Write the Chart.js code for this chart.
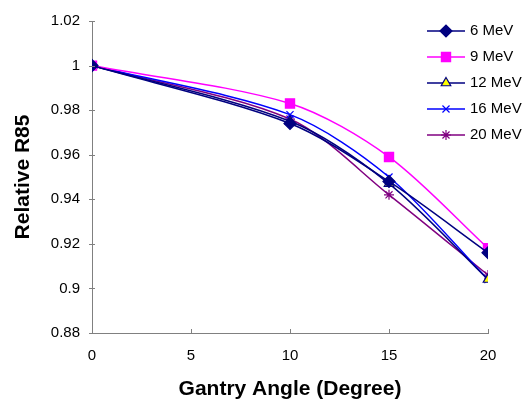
<!DOCTYPE html>
<html>
<head>
<meta charset="utf-8">
<script src="https://cdn.jsdelivr.net/npm/chart.js@4/dist/chart.umd.min.js"></script>
<style>
html,body{margin:0;padding:0;background:#fff;}
#wrap{width:532px;height:402px;}
</style>
</head>
<body>
<div id="wrap"><canvas id="c" width="532" height="402"></canvas></div>
<script>
const angles = [0, 10, 15, 20];
const mev6  = [1, 0.974, 0.948, 0.916];
const mev9  = [1, 0.983, 0.959, 0.918];
const mev12 = [1, 0.975, 0.947, 0.904];
const mev16 = [1, 0.978, 0.950, 0.904];
const mev20 = [1, 0.976, 0.942, 0.906];
const seriesNames = ['6 MeV', '9 MeV', '12 MeV', '16 MeV', '20 MeV'];
const xTicks = [0, 5, 10, 15, 20];
const yTicks = [0.88, 0.9, 0.92, 0.94, 0.96, 0.98, 1, 1.02];

const styles = [
  {line:'#000080', fill:'#000080', border:'#000080', style:'rectRot', r:6},
  {line:'#FF00FF', fill:'#FF00FF', border:'#FF00FF', style:'rect', r:6.5},
  {line:'#000080', fill:'#FFFF00', border:'#000080', style:'triangle', r:5.5},
  {line:'#0000FF', fill:'#0000FF', border:'#0000FF', style:'crossRot', r:5},
  {line:'#800080', fill:'#800080', border:'#800080', style:'star', r:5}
];
const values = [mev6, mev9, mev12, mev16, mev20];

const datasets = values.map((v, i) => ({
  label: seriesNames[i],
  data: angles.map((a, j) => ({x: a, y: v[j]})),
  borderColor: styles[i].line,
  borderWidth: 1.5,
  backgroundColor: styles[i].fill,
  pointStyle: styles[i].style,
  pointRadius: styles[i].r,
  pointBorderColor: styles[i].border,
  pointBackgroundColor: styles[i].fill,
  pointBorderWidth: 1.2,
  tension: 0.3,
  fill: false
}));

const FONT = "'Liberation Sans', Arial, sans-serif";

const extras = {
  id: 'extras',
  afterDraw(chart) {
    const ctx = chart.ctx;
    const xs = chart.scales.x, ys = chart.scales.y;
    ctx.save();
    ctx.strokeStyle = '#808080';
    ctx.lineWidth = 1;
    xTicks.forEach(t => {
      const px = Math.round(xs.getPixelForValue(t)) + 0.5;
      ctx.beginPath();
      ctx.moveTo(px, ys.bottom);
      ctx.lineTo(px, ys.bottom - 4);
      ctx.stroke();
    });
    yTicks.forEach(t => {
      const py = Math.round(ys.getPixelForValue(t)) + 0.5;
      ctx.beginPath();
      ctx.moveTo(xs.left - 3, py);
      ctx.lineTo(xs.left + 3, py);
      ctx.stroke();
    });
    const rows = [31, 57, 83, 109, 135];
    const x0 = 427, x1 = 465;
    ctx.font = '15px ' + FONT;
    ctx.textBaseline = 'middle';
    ctx.textAlign = 'left';
    styles.forEach((s, i) => {
      const y = rows[i];
      ctx.strokeStyle = s.line;
      ctx.lineWidth = 1.5;
      ctx.beginPath();
      ctx.moveTo(x0, y);
      ctx.lineTo(x1, y);
      ctx.stroke();
      ctx.fillStyle = s.fill;
      ctx.strokeStyle = s.border;
      ctx.lineWidth = 1.2;
      if (Chart.helpers && Chart.helpers.drawPoint) {
        Chart.helpers.drawPoint(ctx, {pointStyle: s.style, radius: s.r, rotation: 0, borderWidth: 1.2}, (x0 + x1) / 2, y);
      }
      ctx.fillStyle = '#000';
      ctx.fillText(seriesNames[i], 470, y);
    });
    ctx.restore();
  }
};

new Chart(document.getElementById('c'), {
  type: 'line',
  data: { datasets },
  options: {
    responsive: false,
    animation: false,
    devicePixelRatio: 1,
    layout: { padding: { top: 16, right: 44, left: 0, bottom: 0 } },
    plugins: { legend: { display: false }, tooltip: { enabled: false } },
    scales: {
      x: {
        type: 'linear',
        min: 0, max: 20,
        afterBuildTicks(scale) { scale.ticks = xTicks.map(v => ({value: v})); },
        afterFit(scale) { scale.height = 69; },
        grid: { display: false, drawTicks: false },
        border: { display: true, color: '#808080', width: 1 },
        ticks: { color: '#000', font: { family: FONT, size: 15 }, padding: 14, maxRotation: 0 },
        title: { display: true, text: 'Gantry Angle (Degree)', color: '#000',
          font: { family: FONT, size: 21, weight: 'bold', lineHeight: 1 }, padding: { top: 0, bottom: 2 } }
      },
      y: {
        type: 'linear',
        min: 0.88, max: 1.02,
        afterBuildTicks(scale) { scale.ticks = yTicks.map(v => ({value: v})); },
        afterFit(scale) { scale.width = 92; },
        grid: { display: false, drawTicks: false },
        border: { display: true, color: '#808080', width: 1 },
        ticks: { color: '#000', font: { family: FONT, size: 15 }, padding: 12,
          callback: v => String(Number(v.toFixed(2))) },
        title: { display: true, text: 'Relative R85', color: '#000',
          font: { family: FONT, size: 21, weight: 'bold', lineHeight: 1 }, padding: { top: 13, bottom: 0 } }
      }
    }
  },
  plugins: [extras]
});
</script>
</body>
</html>
